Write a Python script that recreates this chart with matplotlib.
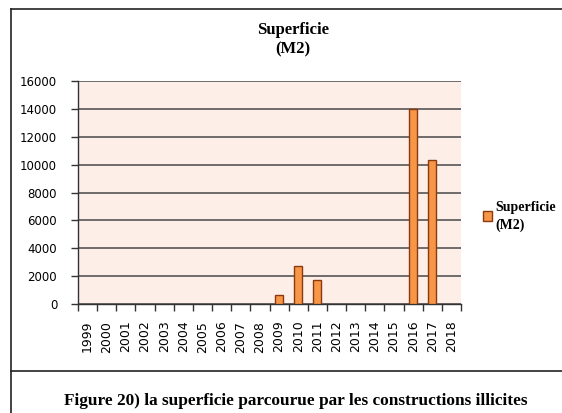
import numpy as np
import matplotlib
matplotlib.use('Agg')
import matplotlib.pyplot as plt
from matplotlib.lines import Line2D
from matplotlib.patches import Patch

# data
years = [str(y) for y in range(1999, 2019)]
superficie = [0, 0, 0, 0, 0, 0, 0, 0, 0, 0, 650, 2750, 1700, 0, 0, 0, 0, 14000, 10300, 0]
yticks = [0, 2000, 4000, 6000, 8000, 10000, 12000, 14000, 16000]

title = 'Superficie\n(M2)'
legend_label = 'Superficie\n(M2)'
caption = 'Figure 20) la superficie parcourue par les constructions illicites'

bar_color = '#F79646'
edge_color = '#8B3A10'

W, H = 562, 413
fig = plt.figure(figsize=(W/100, H/100), dpi=100)
fig.patch.set_facecolor('white')

ax = fig.add_axes([78/W, 1-304/H, (461-78)/W, (304-81)/H])
ax.set_facecolor('#FDEEE8')

x = np.arange(len(years))
lws = [1.0 if v > 0 else 0.0 for v in superficie]
ax.bar(x, superficie, width=0.42, color=bar_color, edgecolor=edge_color, linewidth=lws, zorder=3)

ax.set_xlim(-0.5, len(years)-0.5)
ax.set_ylim(0, 16000)
ax.set_yticks(yticks)
ax.set_yticklabels([str(v) for v in yticks], fontsize=8.5, family='DejaVu Sans')
ax.yaxis.grid(True, color='#555555', linewidth=1.2, zorder=1)
ax.set_axisbelow(True)

# category boundary ticks
ax.set_xticks(np.arange(len(years)+1)-0.5)
ax.set_xticklabels([])
ax.set_xticks(x, minor=True)
ax.set_xticklabels(years, minor=True, rotation=90, fontsize=9, family='DejaVu Sans')
ax.tick_params(axis='x', which='major', length=5, width=1, color='#333333', direction='out')
ax.tick_params(axis='x', which='minor', length=0, pad=12)
ax.tick_params(axis='y', length=5, width=1, color='#333333', pad=10)

for s in ['top', 'right']:
    ax.spines[s].set_visible(False)
ax.spines['left'].set_color('#333333')
ax.spines['bottom'].set_color('#333333')
ax.spines['left'].set_linewidth(1.0)
ax.spines['bottom'].set_linewidth(1.0)

# title
fig.text(293/W, 1-40/H, title, ha='center', va='center', fontsize=12, fontweight='bold',
         family='Liberation Serif', linespacing=1.25)

# legend
handle = Patch(facecolor=bar_color, edgecolor=edge_color, linewidth=1.0)
leg = fig.legend(handles=[handle], labels=[legend_label], loc='upper left', bbox_to_anchor=(477/W, 1-195/H),
                 frameon=False, prop={'family': 'Liberation Serif', 'weight': 'bold', 'size': 10},
                 handlelength=0.7, handleheight=0.7, handletextpad=0.25, borderaxespad=0)
leg.get_texts()[0].set_linespacing(1.45)

# caption
fig.text(296/W, 1-401/H, caption, ha='center', va='center', fontsize=12.4, fontweight='bold',
         family='Liberation Serif')

# frame lines around the chart
fig.add_artist(Line2D([11/W, 11/W], [0, 1-9/H], color='#222222', lw=1.2, transform=fig.transFigure))
fig.add_artist(Line2D([11/W, 1], [1-9/H, 1-9/H], color='#222222', lw=1.2, transform=fig.transFigure))
fig.add_artist(Line2D([11/W, 1], [1-371/H, 1-371/H], color='#222222', lw=1.2, transform=fig.transFigure))

plt.savefig('out.png', dpi=100)
plt.close()
